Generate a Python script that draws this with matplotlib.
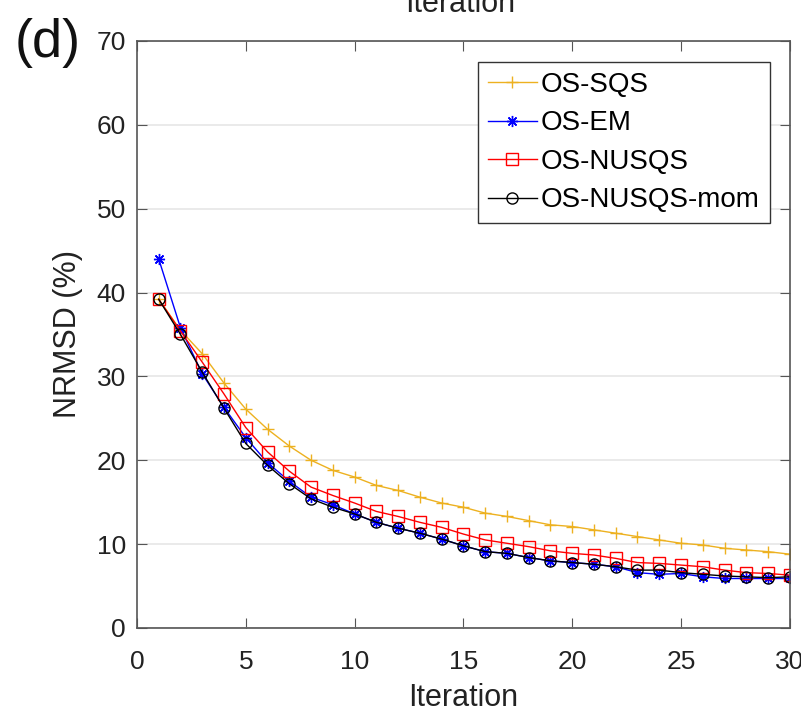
import matplotlib
matplotlib.use("Agg")
import matplotlib.pyplot as plt

plt.rcParams["font.family"] = ["Liberation Sans", "DejaVu Sans"]

iterations = list(range(1, 31))

os_sqs = [39.2, 35.5, 32.7, 29.2, 26.1, 23.7, 21.7, 20.0, 18.8, 18.0,
          17.0, 16.4, 15.6, 14.9, 14.4, 13.7, 13.3, 12.8, 12.3, 12.1,
          11.7, 11.3, 10.9, 10.5, 10.1, 9.9, 9.5, 9.3, 9.1, 8.8]
os_em = [44.0, 35.8, 30.3, 26.3, 22.7, 19.7, 17.5, 15.6, 14.7, 13.6,
         12.6, 11.9, 11.3, 10.6, 9.8, 9.1, 8.9, 8.4, 8.0, 7.8,
         7.6, 7.3, 6.6, 6.4, 6.5, 6.1, 5.9, 5.9, 5.9, 5.9]
os_nusqs = [39.2, 35.4, 31.7, 27.9, 23.9, 21.0, 18.7, 16.8, 15.8, 14.9,
            13.9, 13.3, 12.6, 12.0, 11.2, 10.5, 10.1, 9.7, 9.2, 8.9,
            8.7, 8.3, 7.8, 7.7, 7.5, 7.3, 6.9, 6.6, 6.5, 6.3]
os_nusqs_mom = [39.2, 35.0, 30.5, 26.2, 22.0, 19.4, 17.2, 15.4, 14.4, 13.6,
                12.6, 11.9, 11.3, 10.6, 9.8, 9.1, 8.9, 8.4, 8.0, 7.8,
                7.6, 7.3, 6.9, 6.9, 6.6, 6.4, 6.2, 6.1, 6.0, 6.1]

series = [
    ("OS-SQS", os_sqs, "#EDB120", "+"),
    ("OS-EM", os_em, "#0000FF", (8, 2, 0)),
    ("OS-NUSQS", os_nusqs, "#FF0000", "s"),
    ("OS-NUSQS-mom", os_nusqs_mom, "#000000", "o"),
]

fig = plt.figure(figsize=(8.01, 7.19), dpi=100)
ax = fig.add_axes([0.171, 0.1266, 0.815, 0.8164])

for label, values, color, marker in series:
    ax.plot(iterations, values, color=color, marker=marker, markersize=8,
            markerfacecolor="none", markeredgewidth=1.0, linewidth=1.0,
            label=label)

ax.set_xlim(0, 30)
ax.set_ylim(0, 70)
ax.set_xticks(range(0, 31, 5))
ax.set_yticks(range(0, 71, 10))
ax.yaxis.grid(True, color="#e6e6e6", linewidth=1.2)
ax.set_axisbelow(True)

for spine in ax.spines.values():
    spine.set_color("#555555")
    spine.set_linewidth(1.2)
ax.tick_params(direction="in", top=True, right=True, length=7,
               color="#555555", labelsize=19, labelcolor="#222222", pad=8)
ax.tick_params(axis="x", pad=16)

ax.set_xlabel("Iteration", fontsize=22, color="#222222", labelpad=6)
ax.set_ylabel("NRMSD (%)", fontsize=22, color="#222222", labelpad=10)

leg = ax.legend(loc="upper right", fontsize=20, handlelength=1.75,
                fancybox=False, framealpha=1, edgecolor="#333333",
                borderpad=0.35, labelspacing=0.45, handletextpad=0.15,
                borderaxespad=0, bbox_to_anchor=(0.969, 0.964))
leg.get_frame().set_linewidth(1.0)

fig.text(0.018, 1 - 57 / 719, "(d)", fontsize=39, color="#111111",
         va="baseline")
fig.text(0.575, 1 - 12 / 719, "Iteration", fontsize=22, color="#222222",
         ha="center", va="baseline")

fig.savefig("out.png", dpi=100)
